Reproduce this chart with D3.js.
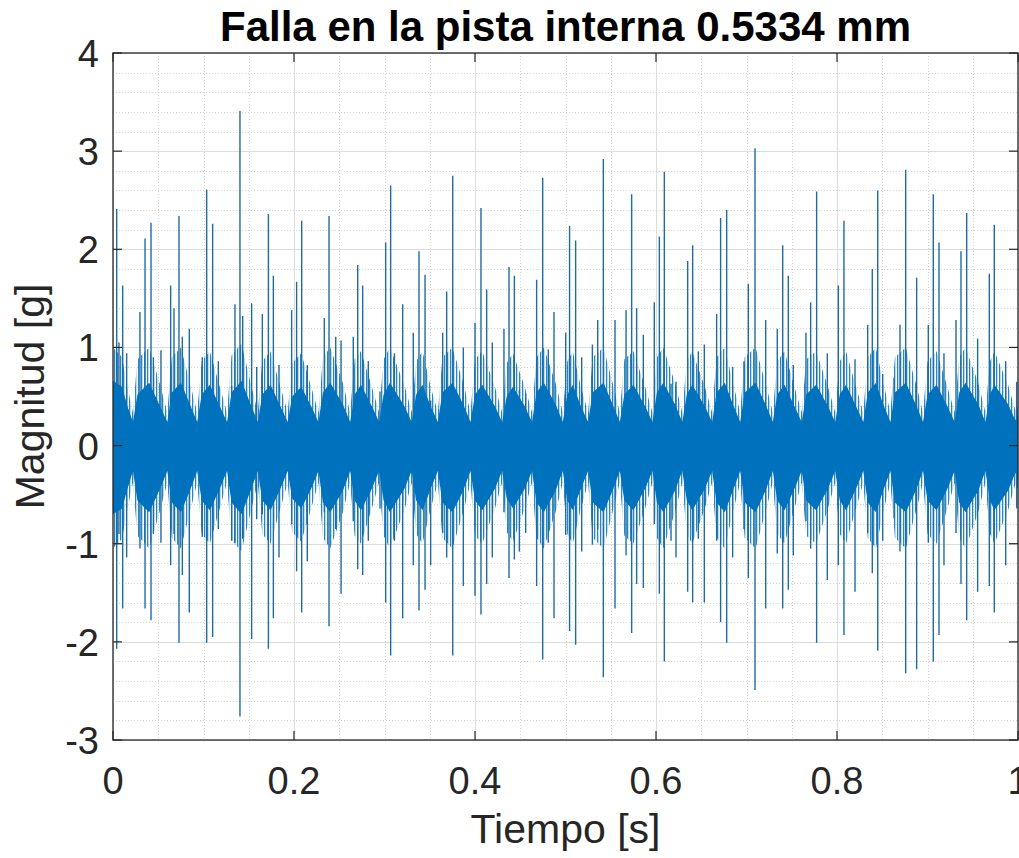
<!DOCTYPE html>
<html>
<head>
<meta charset="utf-8">
<script src="https://cdn.jsdelivr.net/npm/d3@7"></script>
<style>
  html, body { margin: 0; padding: 0; background: #fff; }
  svg { display: block; }
  text { font-family: "Liberation Sans", Arial, Helvetica, sans-serif; }
</style>
</head>
<body>
<div id="chart"></div>
<script>
// ---------------- DATA ----------------
const titleText = "Falla en la pista interna 0.5334 mm";
const xLabelText = "Tiempo [s]";
const yLabelText = "Magnitud [g]";
const xTicks = [0, 0.2, 0.4, 0.6, 0.8, 1];
const xTickLabels = ["0", "0.2", "0.4", "0.6", "0.8", "1"];
const yTicks = [-3, -2, -1, 0, 1, 2, 3, 4];
const yTickLabels = ["-3", "-2", "-1", "0", "1", "2", "3", "4"];

// Envelope sample times [s]: trough, onset, peak and decay of each burst
const envT = [0.000, 0.010, 0.016,
  0.022, 0.027, 0.040, 0.052,  0.060, 0.065, 0.075, 0.085,  0.093, 0.098, 0.107, 0.118,
  0.126, 0.131, 0.142, 0.152,  0.160, 0.165, 0.174, 0.185,  0.193, 0.198, 0.208, 0.219,
  0.227, 0.232, 0.240, 0.254,  0.262, 0.267, 0.274, 0.286,  0.294, 0.299, 0.306, 0.322,
  0.330, 0.335, 0.342, 0.351,  0.359, 0.364, 0.375, 0.387,  0.395, 0.400, 0.408, 0.422,
  0.430, 0.435, 0.442, 0.455,  0.463, 0.468, 0.476, 0.489,  0.497, 0.502, 0.508, 0.517,
  0.525, 0.530, 0.542, 0.552,  0.560, 0.565, 0.575, 0.588,  0.596, 0.601, 0.608, 0.621,
  0.629, 0.634, 0.640, 0.654,  0.662, 0.667, 0.676, 0.685,  0.693, 0.698, 0.710, 0.721,
  0.729, 0.734, 0.742, 0.753,  0.761, 0.766, 0.777, 0.790,  0.798, 0.803, 0.810, 0.821,
  0.829, 0.834, 0.843, 0.851,  0.859, 0.864, 0.876, 0.887,  0.895, 0.900, 0.910, 0.922,
  0.930, 0.935, 0.942, 0.956,  0.964, 0.969, 0.974, 0.989,
  0.997, 1.000];
// Solid core of the signal (upper / lower edge) [g]
const coreHi = [0.66, 0.60, 0.40,
  0.24, 0.52, 0.64, 0.40,  0.24, 0.54, 0.64, 0.42,  0.24, 0.52, 0.62, 0.40,
  0.24, 0.54, 0.66, 0.42,  0.24, 0.52, 0.62, 0.40,  0.24, 0.50, 0.60, 0.40,
  0.24, 0.54, 0.64, 0.42,  0.24, 0.52, 0.62, 0.40,  0.24, 0.52, 0.64, 0.40,
  0.24, 0.52, 0.62, 0.40,  0.24, 0.54, 0.64, 0.42,  0.24, 0.52, 0.62, 0.40,
  0.24, 0.50, 0.60, 0.40,  0.24, 0.54, 0.64, 0.42,  0.24, 0.52, 0.62, 0.40,
  0.24, 0.54, 0.64, 0.42,  0.24, 0.52, 0.62, 0.40,  0.24, 0.54, 0.64, 0.42,
  0.24, 0.52, 0.62, 0.40,  0.24, 0.54, 0.64, 0.42,  0.24, 0.54, 0.64, 0.42,
  0.24, 0.52, 0.62, 0.40,  0.24, 0.52, 0.62, 0.40,  0.24, 0.52, 0.62, 0.40,
  0.24, 0.54, 0.64, 0.42,  0.24, 0.54, 0.64, 0.42,  0.24, 0.52, 0.62, 0.40,
  0.24, 0.54, 0.64, 0.42,  0.24, 0.52, 0.62, 0.42,
  0.26, 0.30];
const coreLo = [-0.70, -0.64, -0.44,
  -0.26, -0.56, -0.68, -0.44,  -0.26, -0.58, -0.68, -0.46,  -0.26, -0.56, -0.66, -0.44,
  -0.26, -0.58, -0.70, -0.46,  -0.26, -0.56, -0.66, -0.44,  -0.26, -0.54, -0.64, -0.44,
  -0.26, -0.58, -0.68, -0.46,  -0.26, -0.56, -0.66, -0.44,  -0.26, -0.56, -0.68, -0.44,
  -0.26, -0.56, -0.66, -0.44,  -0.26, -0.58, -0.68, -0.46,  -0.26, -0.56, -0.66, -0.44,
  -0.26, -0.54, -0.64, -0.44,  -0.26, -0.58, -0.68, -0.46,  -0.26, -0.56, -0.66, -0.44,
  -0.26, -0.58, -0.68, -0.46,  -0.26, -0.56, -0.66, -0.44,  -0.26, -0.58, -0.68, -0.46,
  -0.26, -0.56, -0.66, -0.44,  -0.26, -0.58, -0.68, -0.46,  -0.26, -0.58, -0.68, -0.46,
  -0.26, -0.56, -0.66, -0.44,  -0.26, -0.56, -0.66, -0.44,  -0.26, -0.56, -0.66, -0.44,
  -0.26, -0.58, -0.68, -0.46,  -0.26, -0.58, -0.68, -0.46,  -0.26, -0.56, -0.66, -0.44,
  -0.26, -0.58, -0.68, -0.46,  -0.26, -0.56, -0.66, -0.46,
  -0.28, -0.32];
// Outer fringe of many medium oscillations (upper / lower reach) [g]
const fringeHi = [1.00, 0.90, 0.60,
  0.34, 0.88, 1.00, 0.62,  0.34, 0.90, 1.00, 0.64,  0.34, 0.86, 0.96, 0.60,
  0.34, 0.92, 1.04, 0.64,  0.34, 0.86, 0.96, 0.60,  0.34, 0.84, 0.94, 0.60,
  0.34, 0.90, 1.00, 0.64,  0.34, 0.88, 0.96, 0.60,  0.34, 0.88, 1.00, 0.62,
  0.34, 0.86, 0.96, 0.60,  0.34, 0.90, 1.00, 0.64,  0.34, 0.88, 0.96, 0.60,
  0.34, 0.84, 0.94, 0.60,  0.34, 0.90, 1.00, 0.64,  0.34, 0.86, 0.96, 0.60,
  0.34, 0.90, 1.00, 0.64,  0.34, 0.88, 0.96, 0.60,  0.34, 0.90, 1.00, 0.64,
  0.34, 0.86, 0.96, 0.60,  0.34, 0.90, 1.00, 0.64,  0.34, 0.90, 1.00, 0.64,
  0.34, 0.86, 0.96, 0.60,  0.34, 0.88, 0.96, 0.60,  0.34, 0.86, 0.96, 0.60,
  0.34, 0.90, 1.00, 0.64,  0.34, 0.90, 1.00, 0.64,  0.34, 0.86, 0.96, 0.60,
  0.34, 0.90, 1.00, 0.64,  0.34, 0.86, 0.96, 0.62,
  0.36, 0.40];
const fringeLo = [-1.05, -0.95, -0.65,
  -0.38, -0.92, -1.05, -0.66,  -0.38, -0.94, -1.05, -0.68,  -0.38, -0.90, -1.00, -0.64,
  -0.38, -0.96, -1.08, -0.68,  -0.38, -0.90, -1.00, -0.64,  -0.38, -0.88, -0.98, -0.64,
  -0.38, -0.94, -1.05, -0.68,  -0.38, -0.92, -1.00, -0.64,  -0.38, -0.92, -1.05, -0.66,
  -0.38, -0.90, -1.00, -0.64,  -0.38, -0.94, -1.05, -0.68,  -0.38, -0.92, -1.00, -0.64,
  -0.38, -0.88, -0.98, -0.64,  -0.38, -0.94, -1.05, -0.68,  -0.38, -0.90, -1.00, -0.64,
  -0.38, -0.94, -1.05, -0.68,  -0.38, -0.92, -1.00, -0.64,  -0.38, -0.94, -1.05, -0.68,
  -0.38, -0.90, -1.00, -0.64,  -0.38, -0.94, -1.05, -0.68,  -0.38, -0.94, -1.05, -0.68,
  -0.38, -0.90, -1.00, -0.64,  -0.38, -0.92, -1.00, -0.64,  -0.38, -0.90, -1.00, -0.64,
  -0.38, -0.94, -1.05, -0.68,  -0.38, -0.94, -1.05, -0.68,  -0.38, -0.90, -1.00, -0.64,
  -0.38, -0.94, -1.05, -0.68,  -0.38, -0.90, -1.00, -0.66,
  -0.40, -0.44];

// Individual impulses / spikes: time [s], highest and lowest value [g]
const spikeT = [0.0041, 0.0066, 0.0107, 0.0151, 0.0298, 0.0354, 0.0420, 0.0446, 0.0530, 0.0637, 0.0674, 0.0729,
  0.0766, 0.0843, 0.0987, 0.1035, 0.1101, 0.1164, 0.1311, 0.1348, 0.1403, 0.1433, 0.1532, 0.1588,
  0.1650, 0.1717, 0.1772, 0.1834, 0.1974, 0.2029, 0.2085, 0.2147, 0.2335, 0.2387, 0.2461, 0.2520,
  0.2655, 0.2704, 0.2759, 0.2821, 0.2950, 0.3013, 0.3068, 0.3110, 0.3201, 0.3318,
  0.3381, 0.3448, 0.3510, 0.3643, 0.3687, 0.3754, 0.3871, 0.4000, 0.4066, 0.4129, 0.4191, 0.4320,
  0.4376, 0.4435, 0.4490, 0.4560, 0.4681, 0.4748, 0.4810, 0.4873, 0.5002, 0.5045,
  0.5112, 0.5179, 0.5297, 0.5356, 0.5418, 0.5547, 0.5669, 0.5731, 0.5786, 0.5860, 0.5981, 0.6037,
  0.6092, 0.6166, 0.6221, 0.6350, 0.6405, 0.6468, 0.6534, 0.6670, 0.6714,
  0.6781, 0.6847, 0.6972, 0.7020, 0.7094, 0.7212, 0.7340, 0.7400, 0.7462, 0.7517, 0.7657, 0.7709,
  0.7775, 0.7893, 0.8015, 0.8077, 0.8199, 0.8339, 0.8390, 0.8450,
  0.8505, 0.8630, 0.8696, 0.8759, 0.8880, 0.9009, 0.9064, 0.9127, 0.9182, 0.9315, 0.9370, 0.9433,
  0.9554, 0.9683, 0.9738, 0.9864, 0.9985];
const spikeHi = [2.41, 1.05, 1.63, 0.94, 1.36, 2.11, 2.27, 0.90, 0.97, 1.63, 1.40, 2.34,
  1.11, 1.19, 0.90, 2.61, 2.26, 0.86, 0.61, 1.44, 3.41, 1.32, 1.45, 0.80,
  1.34, 2.36, 1.73, 0.82, 1.38, 1.67, 2.29, 0.82, 1.30, 2.34, 1.11, 1.07,
  1.11, 1.84, 1.63, 0.86, 0.55, 2.07, 2.65, 0.94, 1.44, 1.15,
  1.98, 1.74, 0.46, 1.15, 1.57, 2.75, 1.00, 1.25, 2.42, 1.59, 1.05, 1.19,
  1.82, 1.73, 0.57, 0.53, 1.69, 2.73, 0.98, 1.36, 1.15, 2.24,
  2.09, 0.90, 1.03, 1.28, 2.92, 1.28, 1.38, 2.56, 1.40, 1.13, 1.46, 2.13,
  2.79, 0.63, 0.65, 1.88, 2.04, 0.96, 1.03, 1.34, 2.32,
  2.40, 0.80, 0.86, 1.65, 3.03, 1.28, 1.19, 2.04, 1.73, 0.82, 1.15, 1.46,
  2.59, 0.94, 1.63, 2.29, 0.88, 1.23, 1.80, 2.60,
  0.73, 0.69, 1.23, 2.81, 1.71, 1.23, 2.56, 2.07, 0.94, 1.28, 1.98, 2.37,
  1.09, 1.75, 2.25, 0.86, 0.65];
const spikeLo = [-2.07, -0.90, -1.66, -1.14, -1.05, -1.66, -1.78, -0.90, -0.99, -1.22, -0.90, -2.01,
  -1.32, -1.70, -0.93, -2.01, -1.95, -0.85, -0.97, -0.99, -2.76, -0.95, -1.97, -0.75,
  -0.70, -2.07, -1.76, -1.14, -0.80, -1.28, -1.70, -1.18, -0.68, -1.84, -0.85, -1.51,
  -0.77, -1.26, -1.32, -0.97, -0.64, -1.60, -2.14, -0.97, -1.76, -1.22,
  -1.68, -1.47, -1.22, -0.89, -1.14, -2.14, -1.43, -1.53, -1.72, -1.41, -1.14, -0.68,
  -1.35, -1.16, -1.08, -0.89, -1.43, -2.18, -0.99, -1.76, -0.91, -1.89,
  -2.03, -1.08, -1.01, -0.85, -2.36, -1.66, -1.12, -1.91, -1.41, -1.45, -0.80, -1.51,
  -2.20, -0.97, -1.14, -1.49, -1.60, -0.95, -1.60, -0.97, -1.80,
  -2.01, -1.14, -0.85, -1.35, -2.49, -1.66, -1.10, -1.66, -1.47, -1.12, -0.77, -1.05,
  -2.01, -1.37, -1.22, -1.93, -1.49, -0.89, -1.30, -2.09,
  -0.97, -0.74, -1.08, -2.32, -2.28, -0.99, -2.20, -1.93, -1.22, -0.89, -1.41, -1.78,
  -1.49, -1.43, -1.70, -1.22, -0.64];

// ---------------- LAYOUT ----------------
const W = 1019, H = 858;
const plot = { left: 113, right: 1018, top: 53, bottom: 740 };

const svg = d3.select("#chart").append("svg")
  .attr("width", W).attr("height", H)
  .attr("viewBox", `0 0 ${W} ${H}`);

svg.append("rect").attr("width", W).attr("height", H).attr("fill", "#ffffff");

const blue = "#0072BD";
const defs = svg.append("defs");
const pat = defs.append("pattern").attr("id", "hatch")
  .attr("patternUnits", "userSpaceOnUse").attr("width", 3).attr("height", 10);
pat.append("rect").attr("x", 0).attr("y", 0).attr("width", 1.3).attr("height", 10)
  .attr("fill", blue).attr("fill-opacity", 0.85);
defs.append("clipPath").attr("id", "plotclip").append("rect")
  .attr("x", plot.left).attr("y", plot.top)
  .attr("width", plot.right - plot.left).attr("height", plot.bottom - plot.top);

const x = d3.scaleLinear().domain([0, 1]).range([plot.left, plot.right]);
const y = d3.scaleLinear().domain([-3, 4]).range([plot.bottom, plot.top]);

// ---------------- GRID ----------------
const gridG = svg.append("g");
const xMinor = d3.range(0, 1.0001, 0.05).filter(v => Math.abs(v * 5 - Math.round(v * 5)) > 1e-6);
const yMinor = d3.range(-3, 4.0001, 0.2).filter(v => Math.abs(v - Math.round(v)) > 1e-6);

gridG.selectAll(".xminor").data(xMinor).join("line")
  .attr("x1", d => Math.round(x(d)) + 0.5).attr("x2", d => Math.round(x(d)) + 0.5)
  .attr("y1", plot.top).attr("y2", plot.bottom)
  .attr("stroke", "#d2d2d2").attr("stroke-width", 1).attr("stroke-dasharray", "1,2");
gridG.selectAll(".yminor").data(yMinor).join("line")
  .attr("y1", d => Math.round(y(d)) + 0.5).attr("y2", d => Math.round(y(d)) + 0.5)
  .attr("x1", plot.left).attr("x2", plot.right)
  .attr("stroke", "#d2d2d2").attr("stroke-width", 1).attr("stroke-dasharray", "1,2");
gridG.selectAll(".xmajor").data(xTicks).join("line")
  .attr("x1", d => Math.round(x(d)) + 0.5).attr("x2", d => Math.round(x(d)) + 0.5)
  .attr("y1", plot.top).attr("y2", plot.bottom)
  .attr("stroke", "#dcdcdc").attr("stroke-width", 1);
gridG.selectAll(".ymajor").data(yTicks).join("line")
  .attr("y1", d => Math.round(y(d)) + 0.5).attr("y2", d => Math.round(y(d)) + 0.5)
  .attr("x1", plot.left).attr("x2", plot.right)
  .attr("stroke", "#dcdcdc").attr("stroke-width", 1);

// ---------------- SIGNAL ----------------
const sigG = svg.append("g").attr("clip-path", "url(#plotclip)");

const fringeData = envT.map((t, i) => ({ t, hi: fringeHi[i], lo: fringeLo[i] }));
const coreData = envT.map((t, i) => ({ t, hi: coreHi[i], lo: coreLo[i] }));

const area = d3.area()
  .x(d => x(d.t)).y0(d => y(d.lo)).y1(d => y(d.hi))
  .curve(d3.curveLinear);

sigG.append("path").datum(fringeData).attr("d", area)
  .attr("fill", "url(#hatch)");

const spikes = spikeT.map((t, i) => ({ t, hi: spikeHi[i], lo: spikeLo[i] }));
sigG.selectAll(".spike").data(spikes).join("line")
  .attr("x1", d => x(d.t)).attr("x2", d => x(d.t))
  .attr("y1", d => y(d.hi)).attr("y2", d => y(d.lo))
  .attr("stroke", "#1f6c9f").attr("stroke-width", 1.4);

sigG.append("path").datum(coreData).attr("d", area)
  .attr("fill", blue);

// ---------------- AXES BOX & TICKS ----------------
const axG = svg.append("g");
const axisColor = "#262626";
const tl = 9;
axG.selectAll(".xtb").data(xTicks).join("line")
  .attr("x1", d => x(d)).attr("x2", d => x(d))
  .attr("y1", plot.bottom).attr("y2", plot.bottom - tl)
  .attr("stroke", axisColor).attr("stroke-width", 1.2);
axG.selectAll(".xtt").data(xTicks).join("line")
  .attr("x1", d => x(d)).attr("x2", d => x(d))
  .attr("y1", plot.top).attr("y2", plot.top + tl)
  .attr("stroke", axisColor).attr("stroke-width", 1.2);
axG.selectAll(".ytl").data(yTicks).join("line")
  .attr("y1", d => y(d)).attr("y2", d => y(d))
  .attr("x1", plot.left).attr("x2", plot.left + tl)
  .attr("stroke", axisColor).attr("stroke-width", 1.2);
axG.selectAll(".ytr").data(yTicks).join("line")
  .attr("y1", d => y(d)).attr("y2", d => y(d))
  .attr("x1", plot.right).attr("x2", plot.right - tl)
  .attr("stroke", axisColor).attr("stroke-width", 1.2);
axG.append("rect")
  .attr("x", plot.left).attr("y", plot.top)
  .attr("width", plot.right - plot.left).attr("height", plot.bottom - plot.top)
  .attr("fill", "none").attr("stroke", axisColor).attr("stroke-width", 1.3);

// tick labels
axG.selectAll(".xlab").data(xTicks).join("text")
  .attr("x", d => x(d)).attr("y", 794)
  .attr("text-anchor", "middle")
  .attr("font-size", 38).attr("fill", axisColor)
  .text((d, i) => xTickLabels[i]);
axG.selectAll(".ylab").data(yTicks).join("text")
  .attr("x", 99).attr("y", d => y(d) + 14)
  .attr("text-anchor", "end")
  .attr("font-size", 38).attr("fill", axisColor)
  .text((d, i) => yTickLabels[i]);

// axis labels
svg.append("text")
  .attr("x", (plot.left + plot.right) / 2).attr("y", 843)
  .attr("text-anchor", "middle").attr("font-size", 41).attr("fill", axisColor)
  .text(xLabelText);
svg.append("text")
  .attr("transform", `translate(44, ${(plot.top + plot.bottom) / 2}) rotate(-90)`)
  .attr("text-anchor", "middle").attr("font-size", 41).attr("fill", axisColor)
  .text(yLabelText);

// title
svg.append("text")
  .attr("x", (plot.left + plot.right) / 2).attr("y", 41)
  .attr("text-anchor", "middle").attr("font-size", 42).attr("font-weight", "bold")
  .attr("fill", "#000")
  .text(titleText);
</script>
</body>
</html>
